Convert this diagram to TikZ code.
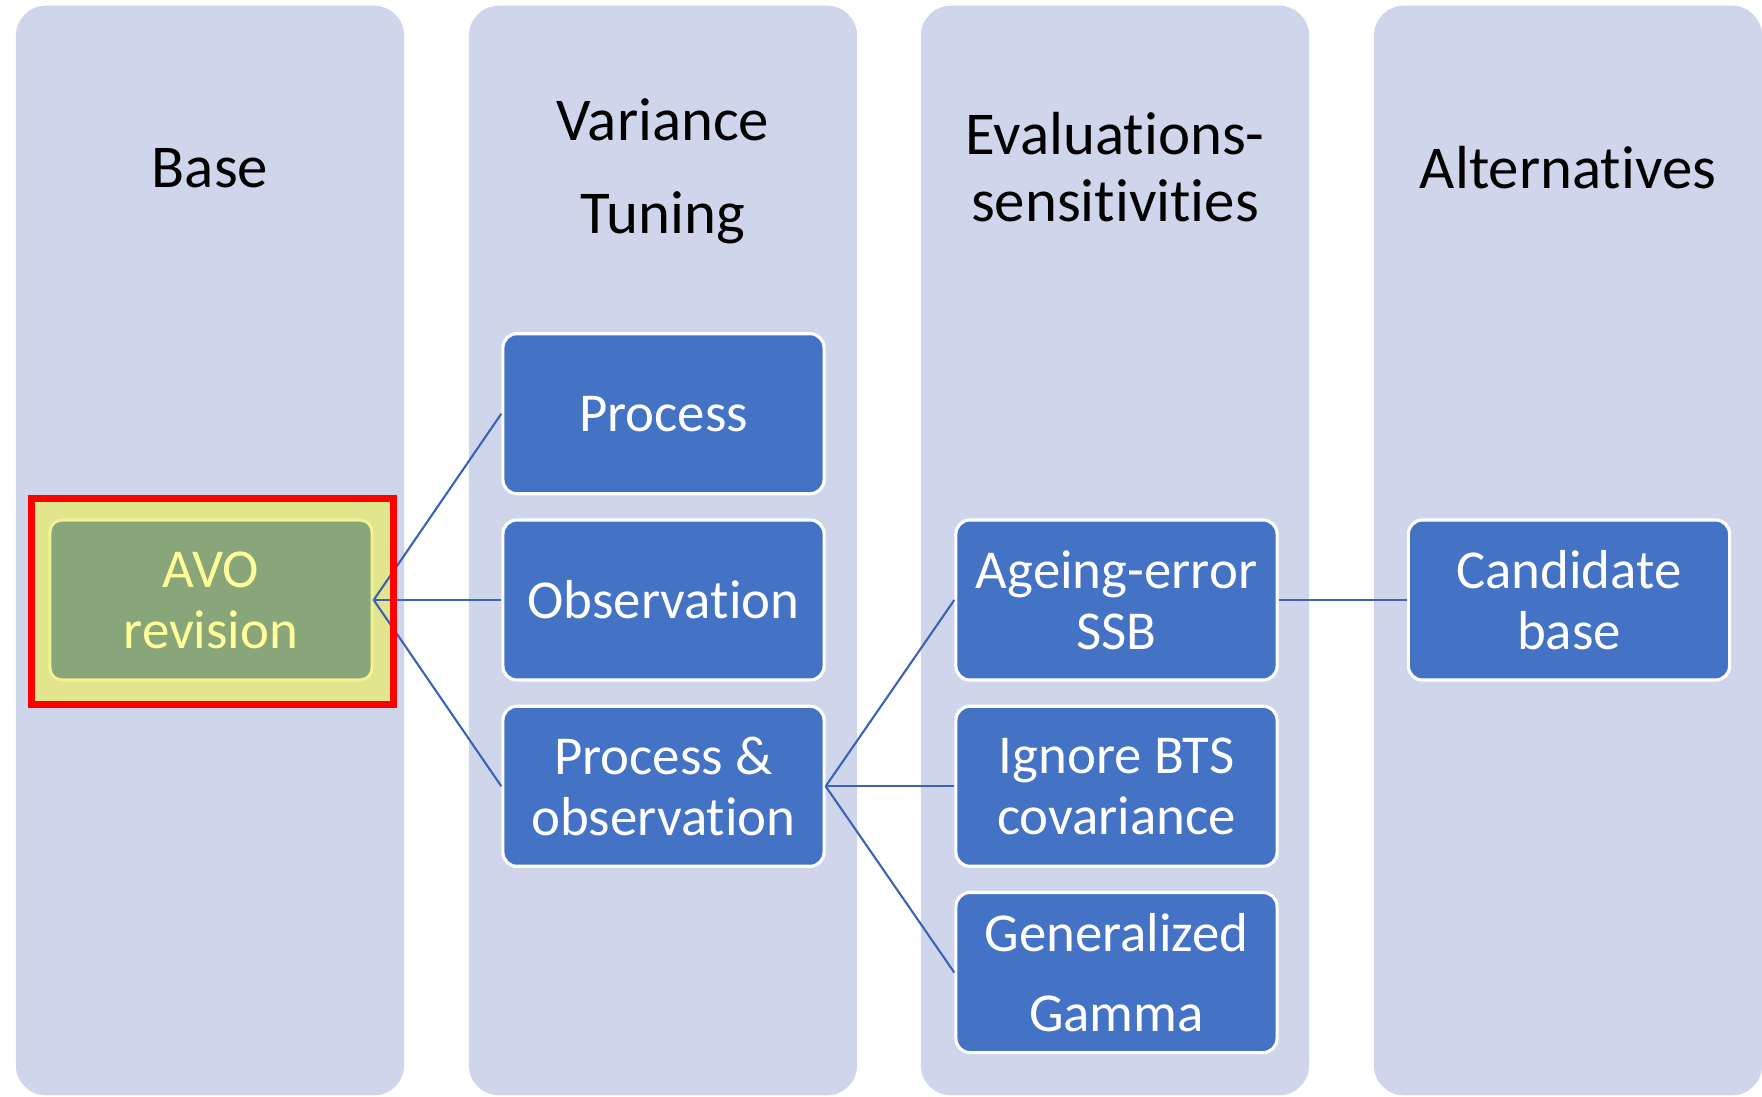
\documentclass[tikz,border=0pt]{standalone}
\usepackage{fontspec}
\setmainfont[Ligatures={NoCommon,NoRare,NoContextual},Contextuals=NoAlternate]{Carlito}
\usepackage{tikz}
\usetikzlibrary{positioning}
\definecolor{laneBlue}{HTML}{CFD5EA}
\definecolor{boxBlue}{HTML}{4472C4}
\definecolor{lineBlue}{HTML}{3B64B4}
\definecolor{avoGreen}{HTML}{89A67A}
\definecolor{avoEdge}{HTML}{F2F294}
\definecolor{avoYellow}{HTML}{E3E58E}
\definecolor{avoText}{HTML}{FFFF99}
\definecolor{frameRed}{HTML}{FF0000}

\begin{document}
\begin{tikzpicture}[
    x=0.01cm, y=-0.01cm,
    lane/.style={fill=laneBlue, rounded corners=0.3cm, minimum width=3.88cm, minimum height=10.89cm, inner sep=0pt},
    head/.style={align=center, font=\fontsize{17.3}{19}\selectfont},
    box/.style={draw=white, line width=0.9pt, fill=boxBlue, text=white, rounded corners=0.14cm,
                minimum width=3.21cm, minimum height=1.6cm, align=center, inner sep=0pt,
                font=\fontsize{15.6}{17.3}\selectfont},
    link/.style={draw=lineBlue, line width=0.6pt}
]
    \useasboundingbox (0,0) rectangle (1762,1097);

    % Columns
    \node[lane] (col_base) at (210,550.5) {};
    \node[lane] (col_var)  at (663,550.5) {};
    \node[lane] (col_eval) at (1115,550.5) {};
    \node[lane] (col_alt)  at (1568,550.5) {};
    \node[head] (head_base) at (210,168) {Base};
    \node[head] (head_var)  at (663,171) {Variance\\[7.5pt]Tuning};
    \node[head] (head_eval) at (1115,167) {Evaluations-\\sensitivities};
    \node[head] (head_alt)  at (1568,168) {Alternatives};

    % Base model
    \node[fill=avoYellow, minimum width=3.6cm, minimum height=2.04cm, inner sep=0pt] (avo_frame) at (212.5,601.5) {};
    \node[box, draw=avoEdge, fill=avoGreen, text=avoText, rounded corners=0.12cm, minimum width=3.22cm] (avo) at (211,600) {AVO\\revision};

    % Variance tuning
    \node[box] (var_obs) at (663.5,600) {Observation};
    \node[box, above=0.23cm of var_obs] (var_proc) {Process};
    \node[box, below=0.23cm of var_obs] (var_both) {Process \&\\observation};

    % Evaluations
    \node[box] (eval_age) at (1116.5,600) {Ageing-error\\SSB};
    \node[box, below=0.23cm of eval_age] (eval_bts) {Ignore BTS\\covariance};
    \node[box, below=0.23cm of eval_bts] (eval_gg) {Generalized\\[5.5pt]Gamma};

    % Alternatives
    \node[box] (alt_cand) at (1569,600) {Candidate\\base};

    % Links
    \draw[link] (avo.east) -- (var_proc.west);
    \draw[link] (avo.east) -- (var_obs.west);
    \draw[link] (avo.east) -- (var_both.west);
    \draw[link] (var_both.east) -- (eval_age.west);
    \draw[link] (var_both.east) -- (eval_bts.west);
    \draw[link] (var_both.east) -- (eval_gg.west);
    \draw[link] (eval_age.east) -- (alt_cand.west);

    % Highlight
    \draw[frameRed, line width=0.07cm] (avo_frame.north west) rectangle (avo_frame.south east);
\end{tikzpicture}
\end{document}
